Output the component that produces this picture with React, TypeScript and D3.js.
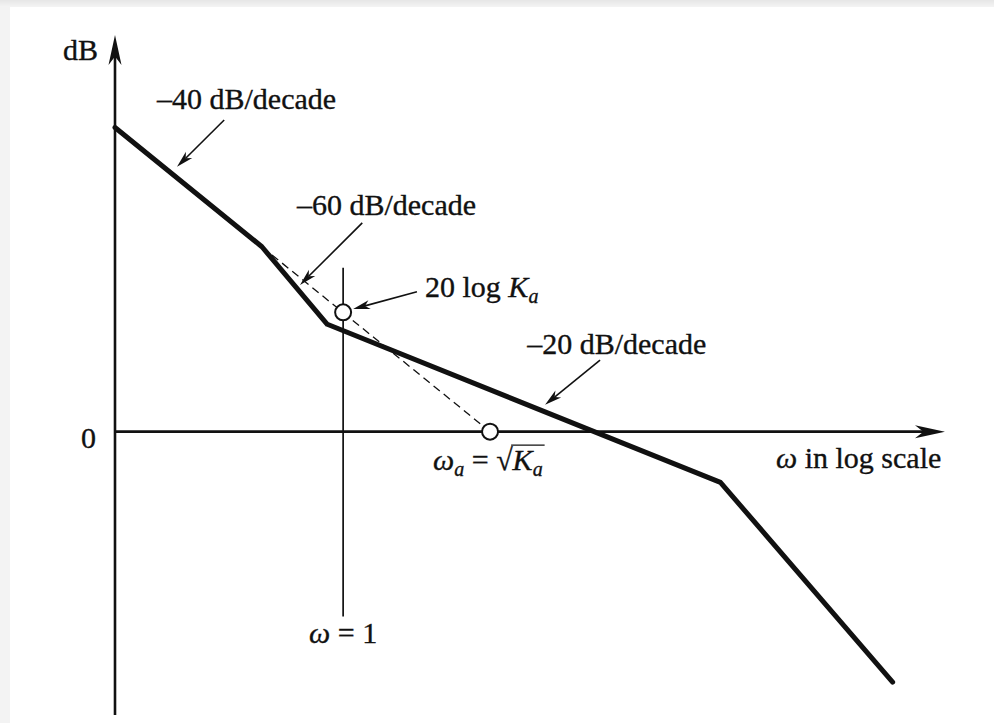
import React, { useLayoutEffect, useRef, useState } from 'react';
import * as d3 from 'd3';

const W = 994;
const H = 723;

// Asymptotic magnitude curve: corner frequencies (rad/s) and gains (dB)
const cornerOmega = [0.028, 0.28, 0.78, 370, 5500];
const cornerDb = [102, 62, 36, -17, -84];

// Low-frequency -40 dB/decade asymptote extended down to 0 dB
const extOmega = [0.28, 10];
const extDb = [62, 0];

// Ka = 100: 20 log Ka = 40 dB at ω = 1, ωa = √Ka = 10 on the 0 dB axis
const markerOmega = [1, 10];
const markerDb = [40, 0];

// Extent of the ω = 1 reference line (dB)
const unitLineDb = [55, -62];

// Slope annotations
const slopeLabels = ['–40 dB/decade', '–60 dB/decade', '–20 dB/decade'];
const slopeLabelOmega = [0.0541, 0.485, 17.9];
const slopeLabelDb = [108.2, 72.8, 26.1];

// Leader arrows: tails and tips (–40, –60, 20 log Ka, –20)
const arrowTailOmega = [0.155, 1.35, 3.18, 56.1];
const arrowTailDb = [104.5, 70.0, 46.9, 24.0];
const arrowTipOmega = [0.074, 0.509, 1.17, 23.7];
const arrowTipDb = [88.8, 49.2, 41.1, 9.0];

// "20 log Ka" label anchor
const kaLabelOmega = 3.61;
const kaLabelDb = 45.2;

const FONT = '"Liberation Serif", "Times New Roman", serif';
const FS = 30;
const SUB = 20;
const INK = '#111';

function arrowHead(x1: number, y1: number, x2: number, y2: number, len: number, half: number) {
  const dx = x2 - x1;
  const dy = y2 - y1;
  const d = Math.hypot(dx, dy);
  const ux = dx / d;
  const uy = dy / d;
  const px = -uy;
  const py = ux;
  const bx = x2 - ux * len;
  const by = y2 - uy * len;
  const nx = x2 - ux * len * 0.72;
  const ny = y2 - uy * len * 0.72;
  const path = d3.path();
  path.moveTo(x2, y2);
  path.lineTo(bx + px * half, by + py * half);
  path.lineTo(nx, ny);
  path.lineTo(bx - px * half, by - py * half);
  path.closePath();
  return { d: path.toString(), nx, ny };
}

export default function App() {
  const x = d3.scaleLog().domain([0.028, 12500]).range([115, 945]);
  const y = d3.scaleLinear().domain([-95, 133]).range([715, 35]);

  const line = d3
    .line<[number, number]>()
    .x((d) => x(d[0]))
    .y((d) => y(d[1]));

  const curve = cornerOmega.map((w, i) => [w, cornerDb[i]] as [number, number]);
  const ext = extOmega.map((w, i) => [w, extDb[i]] as [number, number]);

  const axisX0 = x(x.domain()[0]);
  const axisY0 = y(0);
  const yTop = y(y.domain()[1]);
  const yBottom = y(y.domain()[0]);
  const xRight = x(x.domain()[1]);

  const yHead = arrowHead(axisX0, yBottom, axisX0, yTop, 30, 6.5);
  const xHead = arrowHead(axisX0, axisY0, xRight, axisY0, 30, 6.5);

  // Radical vinculum over K_a, measured from the rendered glyphs
  const radRef = useRef<SVGTextElement>(null);
  const [bar, setBar] = useState<{ x1: number; x2: number; y: number } | null>(null);
  useLayoutEffect(() => {
    const el = radRef.current;
    if (!el) return;
    try {
      const r = el.getExtentOfChar(5);
      const k = el.getExtentOfChar(7);
      setBar({ x1: r.x + r.width - 1.5, x2: k.x + k.width + 2, y: r.y + 2.5 });
    } catch (e) {
      /* ignore */
    }
  }, []);

  const wa = { x: x(markerOmega[1]), y: y(markerDb[1]) };

  return (
    <svg
      width={W}
      height={H}
      viewBox={`0 0 ${W} ${H}`}
      style={{ position: 'absolute', left: 0, top: 0, display: 'block' }}
    >
      <defs>
        <linearGradient id="topShade" x1="0" y1="0" x2="0" y2="1">
          <stop offset="0" stopColor="#e6e6e6" />
          <stop offset="1" stopColor="#f4f4f4" />
        </linearGradient>
      </defs>
      <rect x={0} y={0} width={W} height={H} fill="#f3f3f3" />
      <rect x={0} y={0} width={W} height={7} fill="url(#topShade)" />
      <rect x={10} y={7} width={W - 10} height={H - 7} fill="#fff" />

      {/* axes */}
      <line x1={axisX0} y1={yBottom} x2={axisX0} y2={yTop + 20} stroke={INK} strokeWidth={2.6} />
      <path d={yHead.d} fill={INK} />
      <line x1={axisX0} y1={axisY0} x2={xRight - 20} y2={axisY0} stroke={INK} strokeWidth={2.6} />
      <path d={xHead.d} fill={INK} />

      {/* ω = 1 reference line */}
      <line
        x1={x(1)}
        y1={y(unitLineDb[0])}
        x2={x(1)}
        y2={y(unitLineDb[1])}
        stroke={INK}
        strokeWidth={1.7}
      />

      {/* extended asymptote */}
      <path d={line(ext) || ''} fill="none" stroke={INK} strokeWidth={1.3} strokeDasharray="8,5" />

      {/* magnitude asymptotes */}
      <path
        d={line(curve) || ''}
        fill="none"
        stroke={INK}
        strokeWidth={5}
        strokeLinejoin="round"
        strokeLinecap="round"
      />

      {/* markers */}
      {markerOmega.map((w, i) => (
        <circle key={i} cx={x(w)} cy={y(markerDb[i])} r={8} fill="#fff" stroke={INK} strokeWidth={2} />
      ))}

      {/* leader arrows */}
      {arrowTailOmega.map((w, i) => {
        const x1 = x(w);
        const y1 = y(arrowTailDb[i]);
        const x2 = x(arrowTipOmega[i]);
        const y2 = y(arrowTipDb[i]);
        const h = arrowHead(x1, y1, x2, y2, 17, 4.5);
        return (
          <g key={i}>
            <line x1={x1} y1={y1} x2={h.nx} y2={h.ny} stroke={INK} strokeWidth={1.6} />
            <path d={h.d} fill={INK} />
          </g>
        );
      })}

      <g fontFamily={FONT} fontSize={FS} fill={INK} stroke={INK} strokeWidth={0.35}>
        <text x={axisX0 - 17} y={60} textAnchor="end">
          dB
        </text>
        <text x={axisX0 - 19} y={axisY0 + 16} textAnchor="end">
          0
        </text>

        {slopeLabels.map((t, i) => (
          <text key={t} x={x(slopeLabelOmega[i])} y={y(slopeLabelDb[i])}>
            {t}
          </text>
        ))}

        <text x={x(kaLabelOmega)} y={y(kaLabelDb)}>
          20 log <tspan fontStyle="italic">K</tspan>
          <tspan fontStyle="italic" fontSize={SUB} dy={6}>
            a
          </tspan>
        </text>

        <text x={776} y={axisY0 + 36}>
          <tspan fontStyle="italic">ω</tspan> in log scale
        </text>

        <text ref={radRef} x={wa.x - 57} y={wa.y + 38}>
          <tspan fontStyle="italic">ω</tspan>
          <tspan fontStyle="italic" fontSize={SUB} dy={6}>
            a
          </tspan>
          <tspan dy={-6}> = </tspan>
          <tspan>√</tspan>
          <tspan fontStyle="italic">K</tspan>
          <tspan fontStyle="italic" fontSize={SUB} dy={6}>
            a
          </tspan>
        </text>

        <text x={x(1)} y={y(unitLineDb[1]) + 26} textAnchor="middle">
          <tspan fontStyle="italic">ω</tspan> = 1
        </text>
      </g>
      {bar && <line x1={bar.x1} y1={bar.y} x2={bar.x2} y2={bar.y} stroke={INK} strokeWidth={1.3} />}
    </svg>
  );
}
